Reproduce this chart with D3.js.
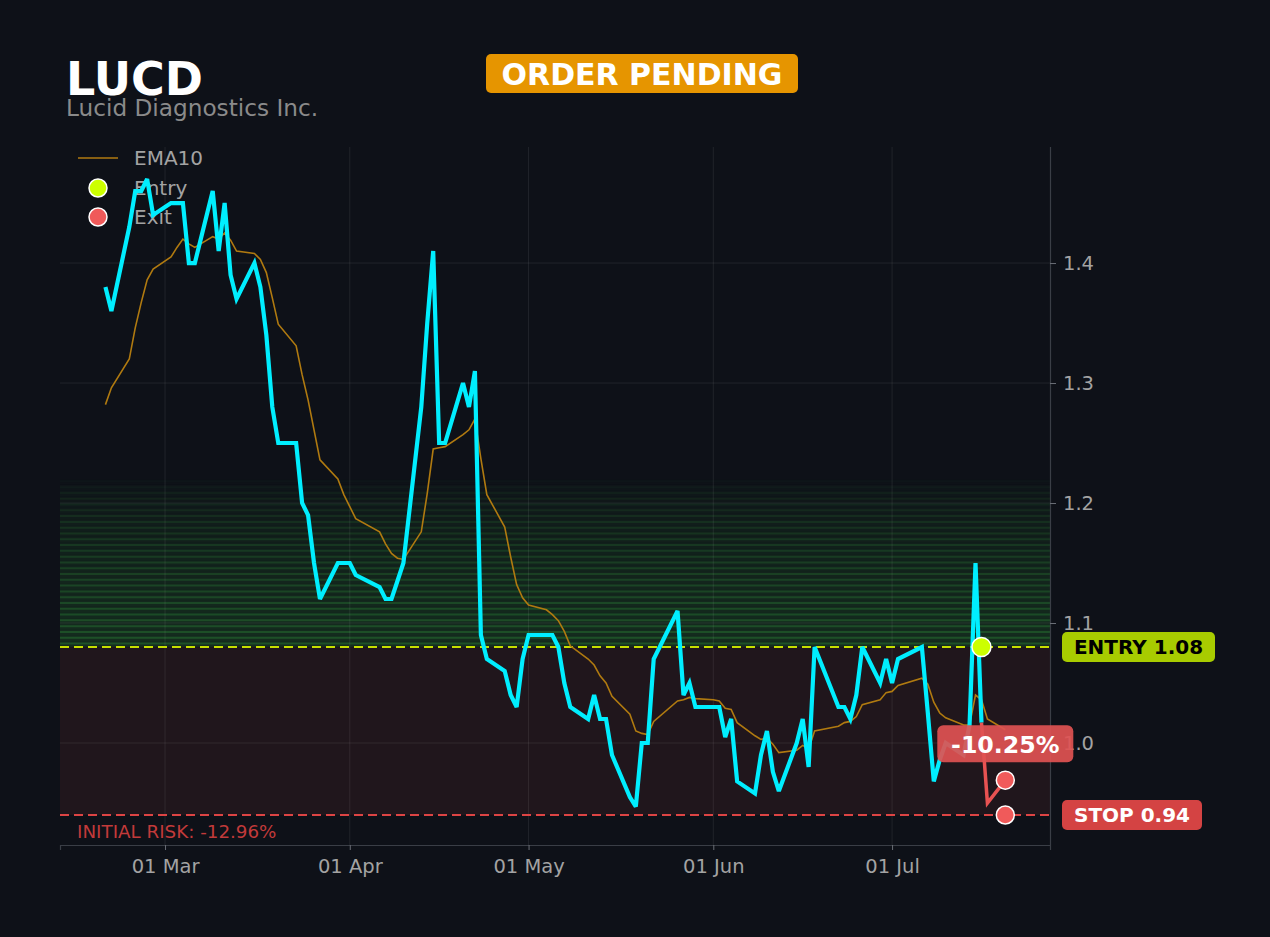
<!DOCTYPE html>
<html>
<head>
<meta charset="utf-8">
<script src="https://cdn.jsdelivr.net/npm/d3@7"></script>
<style>
  html, body { margin: 0; padding: 0; background: #0e1118; }
  svg { display: block; }
  text { font-family: "DejaVu Sans", sans-serif; }
</style>
</head>
<body>
<svg id="chart" width="1270" height="937"></svg>
<script>
// ---------------- DATA ----------------
const ticker = "LUCD";
const companyName = "Lucid Diagnostics Inc.";
const statusText = "ORDER PENDING";

const dates = [
  "2026-02-19","2026-02-20","2026-02-23","2026-02-24","2026-02-25","2026-02-26","2026-02-27",
  "2026-03-02","2026-03-03","2026-03-04","2026-03-05","2026-03-06",
  "2026-03-09","2026-03-10","2026-03-11","2026-03-12","2026-03-13",
  "2026-03-16","2026-03-17","2026-03-18","2026-03-19","2026-03-20",
  "2026-03-23","2026-03-24","2026-03-25","2026-03-26","2026-03-27",
  "2026-03-30","2026-03-31","2026-04-01","2026-04-02",
  "2026-04-06","2026-04-07","2026-04-08","2026-04-09","2026-04-10",
  "2026-04-13","2026-04-14","2026-04-15","2026-04-16","2026-04-17",
  "2026-04-20","2026-04-21","2026-04-22","2026-04-23","2026-04-24",
  "2026-04-27","2026-04-28","2026-04-29","2026-04-30","2026-05-01",
  "2026-05-04","2026-05-05","2026-05-06","2026-05-07","2026-05-08",
  "2026-05-11","2026-05-12","2026-05-13","2026-05-14","2026-05-15",
  "2026-05-18","2026-05-19","2026-05-20","2026-05-21","2026-05-22",
  "2026-05-26","2026-05-27","2026-05-28","2026-05-29",
  "2026-06-01","2026-06-02","2026-06-03","2026-06-04","2026-06-05",
  "2026-06-08","2026-06-09","2026-06-10","2026-06-11","2026-06-12",
  "2026-06-15","2026-06-16","2026-06-17","2026-06-18",
  "2026-06-22","2026-06-23","2026-06-24","2026-06-25","2026-06-26",
  "2026-06-29","2026-06-30","2026-07-01","2026-07-02",
  "2026-07-06","2026-07-07","2026-07-08","2026-07-09","2026-07-10",
  "2026-07-13","2026-07-14","2026-07-15","2026-07-16","2026-07-17",
  "2026-07-20"
];

const closePrices = [
  1.38,1.36,1.43,1.46,1.46,1.47,1.44,
  1.45,1.45,1.45,1.40,1.40,
  1.46,1.41,1.45,1.39,1.37,
  1.40,1.38,1.34,1.28,1.25,
  1.25,1.20,1.19,1.15,1.12,
  1.15,1.15,1.15,1.14,
  1.13,1.12,1.12,1.135,1.15,
  1.28,1.35,1.41,1.25,1.25,
  1.30,1.28,1.31,1.09,1.07,
  1.06,1.04,1.03,1.07,1.09,
  1.09,1.09,1.08,1.05,1.03,
  1.02,1.04,1.02,1.02,0.99,
  0.955,0.947,1.00,1.00,1.07,
  1.11,1.04,1.05,1.03,
  1.03,1.03,1.005,1.02,0.968,
  0.958,0.99,1.01,0.976,0.96,
  1.00,1.02,0.98,1.08,
  1.03,1.03,1.02,1.04,1.08,
  1.05,1.07,1.05,1.07,
  1.08,1.025,0.968,0.986,1.00,
  0.99,1.015,1.15,1.017,0.95,
  0.969
];

const ema10 = [
  1.282,1.296,1.320,1.346,1.367,1.386,1.395,
  1.405,1.413,1.420,1.416,1.413,
  1.422,1.420,1.425,1.419,1.410,
  1.408,1.403,1.392,1.371,1.349,
  1.331,1.307,1.286,1.261,1.236,
  1.220,1.207,1.197,1.187,
  1.176,1.166,1.158,1.154,1.153,
  1.176,1.208,1.245,1.246,1.247,
  1.257,1.261,1.270,1.237,1.207,
  1.180,1.155,1.132,1.121,1.115,
  1.111,1.107,1.102,1.093,1.081,
  1.070,1.065,1.056,1.050,1.039,
  1.024,1.010,1.008,1.007,1.018,
  1.035,1.036,1.038,1.037,
  1.036,1.035,1.029,1.028,1.017,
  1.006,1.003,1.004,0.999,0.992,
  0.994,0.998,0.995,1.010,
  1.014,1.017,1.018,1.022,1.032,
  1.036,1.042,1.043,1.048,
  1.054,1.049,1.034,1.025,1.021,
  1.015,1.015,1.040,1.036,1.020,
  1.011
];

const entryDate = "2026-07-16";
const entryPrice = 1.08;
const stopPrice = 0.94;
const targetPrice = 1.22;
const exitDate = "2026-07-20";
const exitPrices = [0.969, 0.94];
const pnlLabel = "-10.25%";
const initialRiskLabel = "INITIAL RISK: -12.96%";
const yTickValues = [1.0, 1.1, 1.2, 1.3, 1.4];
const xDomain = ["2026-02-11T09:00:00Z", "2026-07-27T12:00:00Z"];
const yDomain = [0.915, 1.4967];

// ---------------- CHART ----------------
const parse = d3.utcParse("%Y-%m-%d");
const rows = dates.map((d, i) => ({ date: parse(d), close: closePrices[i], ema: ema10[i] }));
const entryD = parse(entryDate), exitD = parse(exitDate);

const svg = d3.select("#chart");
const W = 1270, H = 937;
const pL = 60, pR = 1050, pT = 147, pB = 845;

svg.append("rect").attr("width", W).attr("height", H).attr("fill", "#0e1118");

const x = d3.scaleUtc().domain(xDomain.map(s => new Date(s))).range([pL, pR]);
const y = d3.scaleLinear().domain(yDomain).range([pB, pT]);

// Risk zone (entry -> stop)
svg.append("rect")
  .attr("x", pL).attr("width", pR - pL)
  .attr("y", y(entryPrice)).attr("height", y(stopPrice) - y(entryPrice))
  .attr("fill", "#20161c");

// Target gradient zone with stripes
const nBands = 29;
const bandStep = (targetPrice - entryPrice) / nBands;
const bands = d3.range(nBands);
const fade = t => Math.pow(Math.max(0, 1 - t), 0.65);
const zone = svg.append("g");
zone.selectAll("rect").data(bands).join("rect")
  .attr("x", pL).attr("width", pR - pL)
  .attr("y", i => y(entryPrice + (i + 1) * bandStep))
  .attr("height", i => y(entryPrice + i * bandStep) - y(entryPrice + (i + 1) * bandStep))
  .attr("fill", "rgb(40,120,50)")
  .attr("fill-opacity", i => 0.27 * fade((i + 0.5) / nBands));
zone.selectAll("line").data(bands).join("line")
  .attr("x1", pL).attr("x2", pR)
  .attr("y1", i => y(entryPrice + (i + 0.6) * bandStep))
  .attr("y2", i => y(entryPrice + (i + 0.6) * bandStep))
  .attr("stroke", "rgb(40,120,50)").attr("stroke-width", 2)
  .attr("stroke-opacity", i => 0.5 * fade((i + 0.6) / nBands));

// Gridlines
const xTicks = x.ticks(d3.utcMonth.every(1));
svg.append("g").selectAll("line").data(xTicks).join("line")
  .attr("x1", d => x(d)).attr("x2", d => x(d)).attr("y1", pT).attr("y2", pB)
  .attr("stroke", "#ffffff").attr("stroke-opacity", 0.08).attr("stroke-width", 1);
svg.append("g").selectAll("line").data(yTickValues).join("line")
  .attr("x1", pL).attr("x2", pR).attr("y1", d => y(d)).attr("y2", d => y(d))
  .attr("stroke", "#ffffff").attr("stroke-opacity", 0.08).attr("stroke-width", 1);

// Axes
const xAxis = svg.append("g").attr("transform", `translate(0,${pB})`)
  .call(d3.axisBottom(x).tickValues(xTicks).tickFormat(d3.utcFormat("%d %b")).tickSizeOuter(0).tickSize(5).tickPadding(9));
const yAxis = svg.append("g").attr("transform", `translate(${pR},0)`)
  .call(d3.axisRight(y).tickValues(yTickValues).tickFormat(d3.format(".1f")).tickSizeOuter(0).tickSize(6).tickPadding(7));
[xAxis, yAxis].forEach(g => {
  g.select(".domain").attr("stroke", "#3a3e46").attr("stroke-width", 1.2);
  g.selectAll(".tick line").attr("stroke", "#6a6e76");
  g.selectAll(".tick text").attr("fill", "#a3a3a3").style("font-size", "19.5px").style("font-family", "DejaVu Sans");
});
yAxis.select(".domain").attr("d", `M0.5,${pT}V${pB}`);

// Entry / stop dashed lines
svg.append("line").attr("x1", pL).attr("x2", pR).attr("y1", y(entryPrice)).attr("y2", y(entryPrice))
  .attr("stroke", "#c6e000").attr("stroke-width", 2.2).attr("stroke-dasharray", "9,5");
svg.append("line").attr("x1", pL).attr("x2", pR).attr("y1", y(stopPrice)).attr("y2", y(stopPrice))
  .attr("stroke", "#dd4444").attr("stroke-width", 2.2).attr("stroke-dasharray", "9,5");

// Initial risk text
svg.append("text").attr("x", 77).attr("y", 838).text(initialRiskLabel)
  .attr("fill", "#c23a3a").style("font-size", "18.3px");

// Legend
const lg = svg.append("g");
lg.append("line").attr("x1", 78).attr("x2", 118).attr("y1", 158).attr("y2", 158)
  .attr("stroke", "#b07a10").attr("stroke-width", 1.6);
lg.append("text").attr("x", 134).attr("y", 165).text("EMA10").attr("fill", "#a3a3a3").style("font-size", "20px");
lg.append("circle").attr("cx", 98).attr("cy", 188).attr("r", 9).attr("fill", "#ccff00").attr("stroke", "#fff").attr("stroke-width", 1.5);
lg.append("text").attr("x", 134).attr("y", 195).text("Entry").attr("fill", "#a3a3a3").style("font-size", "20px");
lg.append("circle").attr("cx", 98).attr("cy", 217).attr("r", 9).attr("fill", "#f05a5a").attr("stroke", "#fff").attr("stroke-width", 1.5);
lg.append("text").attr("x", 134).attr("y", 224).text("Exit").attr("fill", "#a3a3a3").style("font-size", "20px");

// EMA line
svg.append("path").datum(rows)
  .attr("d", d3.line().x(d => x(d.date)).y(d => y(d.ema)))
  .attr("fill", "none").attr("stroke", "#b07a10").attr("stroke-width", 1.6);

// Price line: cyan up to entry, red afterwards
const preRows = rows.filter(d => d.date <= entryD);
const postRows = rows.filter(d => d.date >= entryD);
svg.append("path").datum(preRows)
  .attr("d", d3.line().x(d => x(d.date)).y(d => y(d.close)))
  .attr("fill", "none").attr("stroke", "#00eeff").attr("stroke-width", 4.2).attr("stroke-linejoin", "miter").attr("stroke-miterlimit", 3);
svg.append("path").datum(postRows)
  .attr("d", d3.line().x(d => x(d.date)).y(d => y(d.close)))
  .attr("fill", "none").attr("stroke", "#e85252").attr("stroke-width", 3.5).attr("stroke-linejoin", "miter");

// Markers
svg.append("circle").attr("cx", x(entryD)).attr("cy", y(entryPrice)).attr("r", 9.5)
  .attr("fill", "#ccff00").attr("stroke", "#fff").attr("stroke-width", 1.5);
svg.append("g").selectAll("circle").data(exitPrices).join("circle")
  .attr("cx", x(exitD)).attr("cy", d => y(d)).attr("r", 9)
  .attr("fill", "#f05a5a").attr("stroke", "#fff").attr("stroke-width", 1.5);

// PnL label
const pnlY = y(exitPrices[0]) - 36;
const pg = svg.append("g");
pg.append("rect").attr("x", x(exitD) - 68).attr("y", pnlY - 19).attr("width", 136).attr("height", 37).attr("rx", 6)
  .attr("fill", "#e05252").attr("fill-opacity", 0.92);
pg.append("text").attr("x", x(exitD)).attr("y", pnlY + 8.5).attr("text-anchor", "middle")
  .text(pnlLabel).attr("fill", "#fff").style("font-size", "23.7px").style("font-weight", "bold");

// Right side labels
function rightLabel(v, txt, fill, color, w) {
  const g = svg.append("g");
  g.append("rect").attr("x", 1062).attr("y", y(v) - 15).attr("width", w).attr("height", 30).attr("rx", 5).attr("fill", fill);
  g.append("text").attr("x", 1062 + w / 2).attr("y", y(v) + 7).attr("text-anchor", "middle")
    .text(txt).attr("fill", color).style("font-size", "20px").style("font-weight", "bold");
}
rightLabel(entryPrice, "ENTRY " + entryPrice.toFixed(2), "#a8cc00", "#000", 153);
rightLabel(stopPrice, "STOP " + stopPrice.toFixed(2), "#d44343", "#fff", 140);

// Title
svg.append("text").attr("x", 66).attr("y", 95).text(ticker).attr("fill", "#fff")
  .style("font-size", "46px").style("font-weight", "bold");
svg.append("text").attr("x", 66).attr("y", 116).text(companyName).attr("fill", "#8a8a8a").style("font-size", "23.2px");

// Status badge
const sb = svg.append("g");
sb.append("rect").attr("x", 486).attr("y", 54).attr("width", 312).attr("height", 39).attr("rx", 5).attr("fill", "#e69500");
sb.append("text").attr("x", 642).attr("y", 84.5).attr("text-anchor", "middle").text(statusText)
  .attr("fill", "#fff").style("font-size", "30px").style("font-weight", "bold");
</script>
</body>
</html>
